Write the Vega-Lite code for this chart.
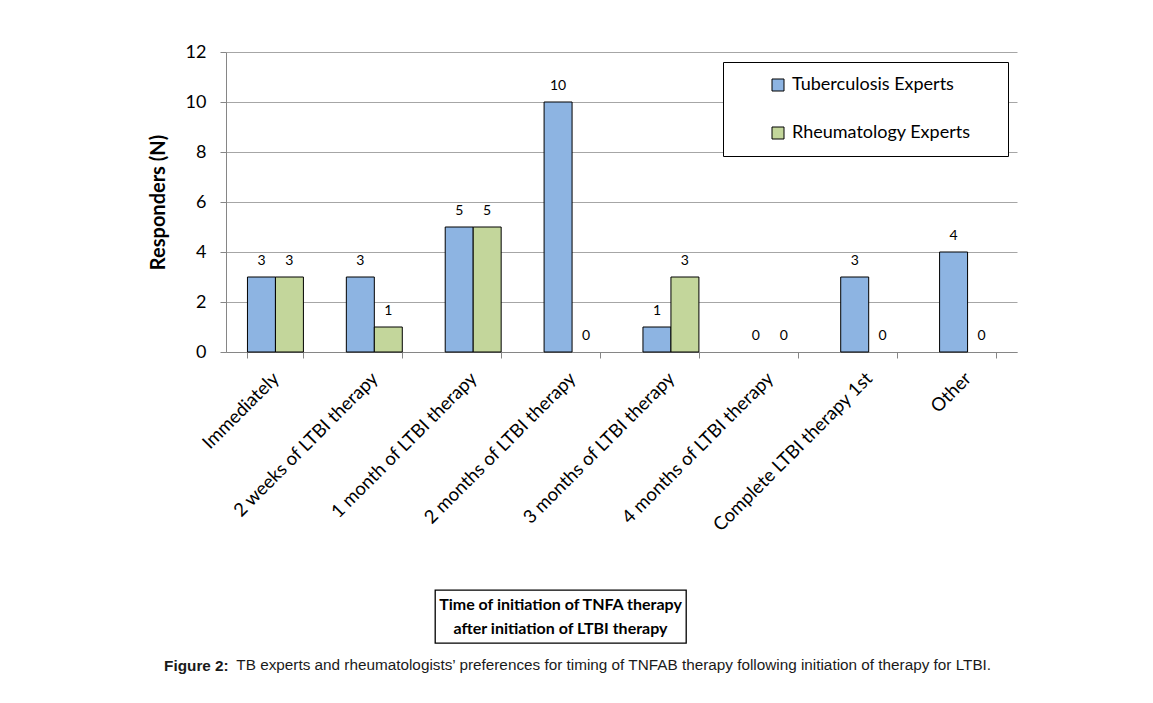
{
  "$schema": "https://vega.github.io/schema/vega-lite/v6.json",
  "background": "white",
  "padding": {"left": 148, "top": 43, "right": 5, "bottom": 5},
  "config": {"view": {"stroke": null}, "font": "Lato"},
  "title": {
    "text": "Figure 2:",
    "subtitle": "\u200b\u00a0\u00a0\u00a0\u00a0\u00a0\u00a0\u00a0\u00a0\u00a0\u00a0\u00a0\u00a0\u00a0\u00a0\u00a0\u00a0\u00a0TB experts and rheumatologists’ preferences for timing of TNFAB therapy following initiation of therapy for LTBI.",
    "orient": "bottom", "anchor": "start", "frame": "bounds", "dx": 16, "offset": 15,
    "font": "Liberation Sans", "fontSize": 15.3, "fontWeight": "bold", "color": "#1a1a1a",
    "subtitleFont": "Liberation Sans", "subtitleFontSize": 15.3, "subtitleFontWeight": "normal",
    "subtitleColor": "#1a1a1a", "subtitlePadding": -16, "limit": 1000
  },
  "spacing": 54,
  "vconcat": [
    {
      "width": 791,
      "height": 300,
      "data": {"values": [
        {"timing": "Immediately", "group": "Tuberculosis Experts", "n": 3},
        {"timing": "Immediately", "group": "Rheumatology Experts", "n": 3},
        {"timing": "2 weeks of LTBI therapy", "group": "Tuberculosis Experts", "n": 3},
        {"timing": "2 weeks of LTBI therapy", "group": "Rheumatology Experts", "n": 1},
        {"timing": "1 month of LTBI therapy", "group": "Tuberculosis Experts", "n": 5},
        {"timing": "1 month of LTBI therapy", "group": "Rheumatology Experts", "n": 5},
        {"timing": "2 months of LTBI therapy", "group": "Tuberculosis Experts", "n": 10},
        {"timing": "2 months of LTBI therapy", "group": "Rheumatology Experts", "n": 0},
        {"timing": "3 months of LTBI therapy", "group": "Tuberculosis Experts", "n": 1},
        {"timing": "3 months of LTBI therapy", "group": "Rheumatology Experts", "n": 3},
        {"timing": "4 months of LTBI therapy", "group": "Tuberculosis Experts", "n": 0},
        {"timing": "4 months of LTBI therapy", "group": "Rheumatology Experts", "n": 0},
        {"timing": "Complete LTBI therapy 1st", "group": "Tuberculosis Experts", "n": 3},
        {"timing": "Complete LTBI therapy 1st", "group": "Rheumatology Experts", "n": 0},
        {"timing": "Other", "group": "Tuberculosis Experts", "n": 4},
        {"timing": "Other", "group": "Rheumatology Experts", "n": 0}
      ]},
      "encoding": {
        "x": {
          "field": "timing", "type": "nominal",
          "sort": ["Immediately", "2 weeks of LTBI therapy", "1 month of LTBI therapy", "2 months of LTBI therapy", "3 months of LTBI therapy", "4 months of LTBI therapy", "Complete LTBI therapy 1st", "Other"],
          "scale": {"paddingInner": 0.434, "paddingOuter": 0.217},
          "axis": {
            "title": null, "labelAngle": -45, "labelAlign": "right", "labelBaseline": "middle",
            "labelFontSize": 18.5, "labelFont": "Lato", "labelColor": "black", "labelPadding": 17,
            "labelLimit": 400, "tickBand": "extent", "tickColor": "#868686", "tickSize": 6,
            "domainColor": "#868686", "grid": false
          }
        },
        "xOffset": {"field": "group", "type": "nominal", "sort": ["Tuberculosis Experts", "Rheumatology Experts"]},
        "y": {
          "field": "n", "type": "quantitative",
          "scale": {"domain": [0, 12]},
          "axis": {
            "values": [0, 2, 4, 6, 8, 10, 12], "grid": true, "gridColor": "#A6A6A6",
            "domainColor": "#868686", "tickColor": "#868686", "tickSize": 6,
            "labelFontSize": 18, "labelFont": "Lato", "labelColor": "black", "labelPadding": 14,
            "title": "Responders (N)", "titleFontSize": 20, "titleFontWeight": "bold",
            "titleFont": "Lato", "titleColor": "black", "titlePadding": 17
          }
        }
      },
      "layer": [
        {
          "transform": [{"filter": "datum.n > 0"}],
          "mark": {"type": "bar", "stroke": "black", "strokeWidth": 1},
          "encoding": {
            "color": {
              "field": "group", "type": "nominal",
              "scale": {"domain": ["Tuberculosis Experts", "Rheumatology Experts"], "range": ["#8DB4E2", "#C3D69B"]},
              "legend": {
                "orient": "none", "legendX": 497, "legendY": 10, "title": null,
                "padding": 14, "strokeColor": "black", "fillColor": "white",
                "symbolType": "square", "symbolSize": 144, "symbolStrokeColor": "black",
                "symbolStrokeWidth": 1, "symbolOffset": 32, "labelOffset": 5,
                "labelFontSize": 18, "labelFont": "Lato", "labelColor": "black",
                "labelLimit": 400, "rowPadding": 30,
                "labelExpr": "datum.label + '\u00a0\u00a0\u00a0\u00a0\u00a0\u200b'"
              }
            }
          }
        },
        {
          "mark": {"type": "text", "dy": -16, "baseline": "middle", "fontSize": 14, "font": "Lato", "color": "black"},
          "encoding": {"text": {"field": "n", "type": "quantitative"}}
        }
      ]
    },
    {
      "spacing": 20,
      "hconcat": [
        {
          "width": 188,
          "height": 53,
          "data": {"values": []},
          "mark": {"type": "text"}
        },
        {
          "width": 251,
          "height": 53,
          "view": {"stroke": "black", "strokeWidth": 1.3},
          "data": {"values": [
            {"t": "Time of initiation of TNFA therapy\nafter initiation of LTBI therapy"}
          ]},
          "mark": {"type": "text", "font": "Lato", "fontWeight": "bold", "fontSize": 16, "lineBreak": "\n", "lineHeight": 24, "align": "center", "baseline": "middle", "dy": -12, "color": "black"},
          "encoding": {"text": {"field": "t"}}
        }
      ]
    }
  ]
}
